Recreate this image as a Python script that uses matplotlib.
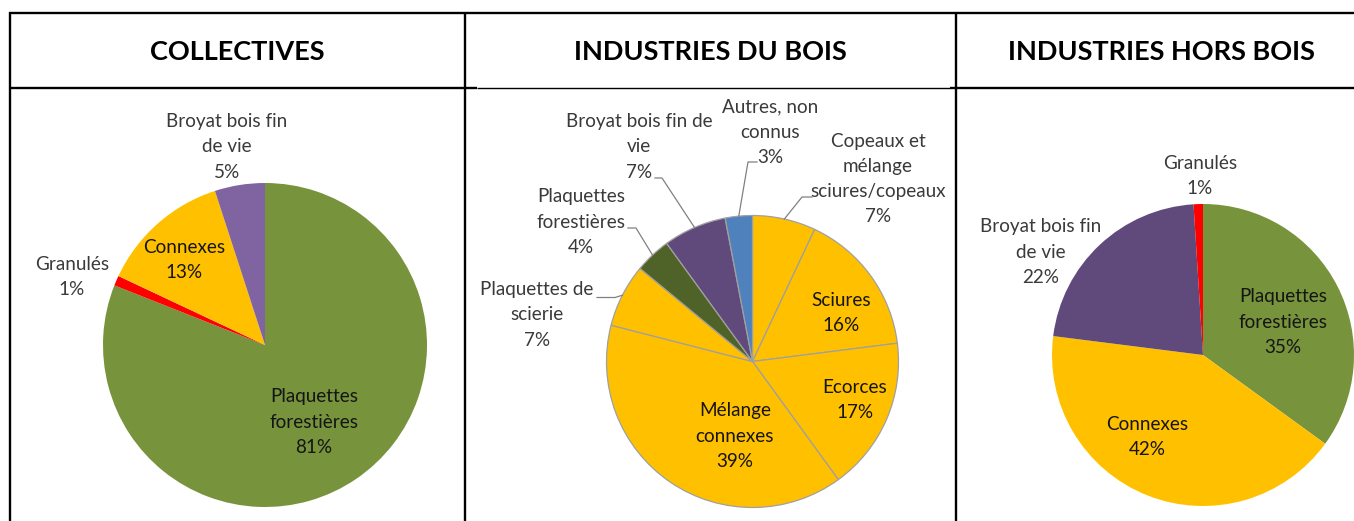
import matplotlib
matplotlib.use("Agg")
import matplotlib.pyplot as plt
from matplotlib.lines import Line2D
import numpy as np

plt.rcParams['font.family'] = ['Lato', 'DejaVu Sans']

# ---- data -------------------------------------------------------------
titles = ["COLLECTIVES", "INDUSTRIES DU BOIS", "INDUSTRIES HORS BOIS"]

coll_labels = ["Plaquettes\nforestières", "Granulés", "Connexes", "Broyat bois fin\nde vie"]
coll_values = [81, 1, 13, 5]

ind_labels = ["Copeaux et\nmélange\nsciures/copeaux", "Sciures", "Ecorces",
              "Mélange\nconnexes", "Plaquettes de\nscierie", "Plaquettes\nforestières",
              "Broyat bois fin de\nvie", "Autres, non\nconnus"]
ind_values = [7, 16, 17, 39, 7, 4, 7, 3]

hors_labels = ["Plaquettes\nforestières", "Connexes", "Broyat bois fin\nde vie", "Granulés"]
hors_values = [35, 42, 22, 1]

# ---- styling ----------------------------------------------------------
GREEN, RED, YELLOW = "#77933C", "#FF0000", "#FFC000"
PURPLE_L, PURPLE_D = "#8064A2", "#604A7B"
DKGREEN, BLUE = "#4F6228", "#4F81BD"

coll_colors = [GREEN, RED, YELLOW, PURPLE_L]
ind_colors = [YELLOW, YELLOW, YELLOW, YELLOW, YELLOW, DKGREEN, PURPLE_D, BLUE]
hors_colors = [GREEN, YELLOW, PURPLE_D, RED]

W, H = 1354, 521
fig = plt.figure(figsize=(W / 100, H / 100), dpi=100)
fig.patch.set_facecolor("white")


def fx(px):
    return px / W


def fy(py):
    return 1 - py / H


# ---- table frame ------------------------------------------------------
def hline(y, x0, x1, lw):
    fig.add_artist(Line2D([fx(x0), fx(x1)], [fy(y), fy(y)], color="black",
                          lw=lw, solid_capstyle="butt"))


def vline(x, y0, y1, lw):
    fig.add_artist(Line2D([fx(x), fx(x)], [fy(y0), fy(y1)], color="black",
                          lw=lw, solid_capstyle="butt"))


hline(12.5, 9, W, 1.7)
hline(88.5, 9, 477, 1.7)
hline(88.5, 477, 950, 1.0)
hline(88.5, 950, W, 1.7)
vline(10, 11.5, H, 1.7)
vline(464.5, 11.5, H, 1.7)
vline(956, 11.5, H, 1.7)

title_x = [237, 710, 1161]
for t, x in zip(titles, title_x):
    fig.text(fx(x), fy(51.5), t, ha="center", va="center", fontsize=19.5,
             fontweight="bold", color="black")

LABEL_KW = dict(fontsize=13.6, linespacing=1.58, ha="center", va="center",
                multialignment="center", clip_on=False)
OUT_COL = "#3a3a3a"
IN_COL = "#151515"


def make_pie(cx, cy, r, values, colors, edge):
    s = r + 2
    ax = fig.add_axes([fx(cx - s), fy(cy + s), 2 * s / W, 2 * s / H])
    ax.axis("off")
    if edge:
        wp = dict(edgecolor="#a0a0a0", linewidth=0.9)
    else:
        wp = dict(edgecolor="none", linewidth=0)
    wedges, _ = ax.pie(values, colors=colors, startangle=90, counterclock=False,
                       radius=1, wedgeprops=wp, frame=False)
    ax.set_xlim(-s / r, s / r)
    ax.set_ylim(-s / r, s / r)
    ax.set_aspect("auto")
    return ax, wedges


def put_label(ax, cx, cy, r, px, py, text, color):
    ax.text((px - cx) / r, (cy - py) / r, text, color=color, **LABEL_KW)


def leader(ax, cx, cy, r, wedge, p0, p1):
    mid = np.deg2rad((wedge.theta1 + wedge.theta2) / 2)
    xe, ye = np.cos(mid), np.sin(mid)
    xs = [(p0[0] - cx) / r, (p1[0] - cx) / r, xe]
    ys = [(cy - p0[1]) / r, (cy - p1[1]) / r, ye]
    ax.add_line(Line2D(xs, ys, color="#808080", lw=0.9, clip_on=False))


def pct(v):
    return f"{v}%"


# ---- COLLECTIVES ------------------------------------------------------
cx, cy, r = 265, 345, 162
ax1, w1 = make_pie(cx, cy, r, coll_values, coll_colors, edge=False)
pos1 = [(314, 422, IN_COL), (72, 277, OUT_COL), (184, 260, IN_COL), (227, 147, OUT_COL)]
for lab, v, (px, py, c) in zip(coll_labels, coll_values, pos1):
    put_label(ax1, cx, cy, r, px, py, f"{lab}\n{pct(v)}", c)

# ---- INDUSTRIES DU BOIS -----------------------------------------------
cx2, cy2, r2 = 752.5, 361.5, 146
ax2, w2 = make_pie(cx2, cy2, r2, ind_values, ind_colors, edge=True)
pos2 = [(878, 179, OUT_COL), (841, 313, IN_COL), (855, 400, IN_COL), (735, 436, IN_COL),
        (537, 315, OUT_COL), (581, 222, OUT_COL), (639, 147, OUT_COL), (770, 132, OUT_COL)]
for lab, v, (px, py, c) in zip(ind_labels, ind_values, pos2):
    put_label(ax2, cx2, cy2, r2, px, py, f"{lab}\n{pct(v)}", c)

# leader lines: (start at label, elbow) -> rim at slice middle
leaders2 = {0: ((812, 197), (802, 197)),
            4: ((597, 297.5), (615, 297.5)),
            5: ((628, 228), (636, 228)),
            6: ((655, 178), (662, 178)),
            7: ((757, 162), (748, 162))}
for i, (p0, p1) in leaders2.items():
    leader(ax2, cx2, cy2, r2, w2[i], p0, p1)

# ---- INDUSTRIES HORS BOIS ---------------------------------------------
cx3, cy3, r3 = 1203, 355, 151
ax3, w3 = make_pie(cx3, cy3, r3, hors_values, hors_colors, edge=False)
pos3 = [(1283, 322, IN_COL), (1147, 437, IN_COL), (1041, 252, OUT_COL), (1200, 176, OUT_COL)]
for lab, v, (px, py, c) in zip(hors_labels, hors_values, pos3):
    put_label(ax3, cx3, cy3, r3, px, py, f"{lab}\n{pct(v)}", c)

fig.savefig("out.png", dpi=100, facecolor="white")
